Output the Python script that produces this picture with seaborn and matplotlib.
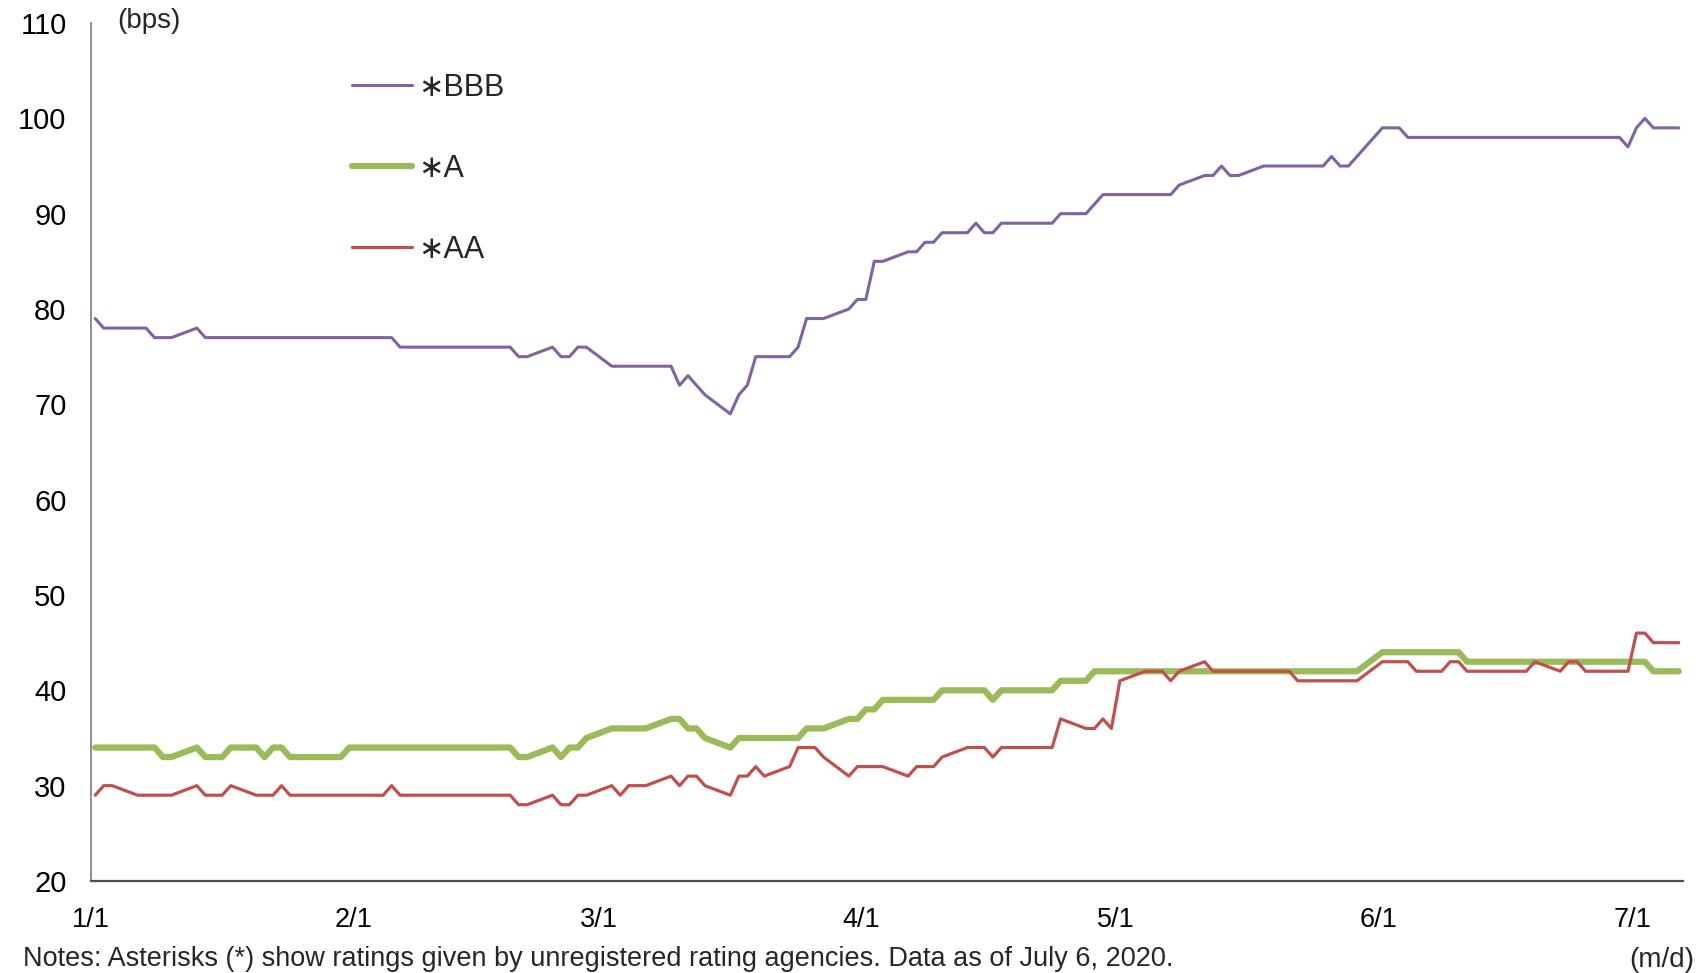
import matplotlib
matplotlib.use("Agg")
import matplotlib.pyplot as plt
import pandas as pd
import seaborn as sns

# Spread vertices (date, bps) for each rating series, 2020
bbb_dates = ["01-01", "01-02", "01-07", "01-08", "01-10", "01-13", "01-14", "02-05",
             "02-06", "02-19", "02-20", "02-21", "02-24", "02-25", "02-26", "02-27",
             "02-28", "03-02", "03-09", "03-10", "03-11", "03-13", "03-16", "03-17",
             "03-18", "03-19", "03-23", "03-24", "03-25", "03-27", "03-30", "03-31",
             "04-01", "04-02", "04-03", "04-06", "04-07", "04-08", "04-09", "04-10",
             "04-13", "04-14", "04-15", "04-16", "04-17", "04-23", "04-24", "04-27",
             "04-29", "05-07", "05-08", "05-11", "05-12", "05-13", "05-14", "05-15",
             "05-18", "05-25", "05-26", "05-27", "05-28", "06-01", "06-03", "06-04",
             "06-29", "06-30", "07-01", "07-02", "07-03", "07-06"]
bbb_values = [79, 78, 78, 77, 77, 78, 77, 77,
              76, 76, 75, 75, 76, 75, 75, 76,
              76, 74, 74, 72, 73, 71, 69, 71,
              72, 75, 75, 76, 79, 79, 80, 81,
              81, 85, 85, 86, 86, 87, 87, 88,
              88, 89, 88, 88, 89, 89, 90, 90,
              92, 92, 93, 94, 94, 95, 94, 94,
              95, 95, 96, 95, 95, 99, 99, 98,
              98, 97, 99, 100, 99, 99]

a_dates = ["01-01", "01-08", "01-09", "01-10", "01-13", "01-14", "01-16", "01-17",
           "01-20", "01-21", "01-22", "01-23", "01-24", "01-30", "01-31", "02-19",
           "02-20", "02-21", "02-24", "02-25", "02-26", "02-27", "02-28", "03-02",
           "03-06", "03-09", "03-10", "03-11", "03-12", "03-13", "03-16", "03-17",
           "03-24", "03-25", "03-27", "03-30", "03-31", "04-01", "04-02", "04-03",
           "04-09", "04-10", "04-15", "04-16", "04-17", "04-23", "04-24", "04-27",
           "04-28", "05-29", "06-01", "06-10", "06-11", "07-02", "07-03", "07-06"]
a_values = [34, 34, 33, 33, 34, 33, 33, 34,
            34, 33, 34, 34, 33, 33, 34, 34,
            33, 33, 34, 33, 34, 34, 35, 36,
            36, 37, 37, 36, 36, 35, 34, 35,
            35, 36, 36, 37, 37, 38, 38, 39,
            39, 40, 40, 39, 40, 40, 41, 41,
            42, 42, 44, 44, 43, 43, 42, 42]

aa_dates = ["01-01", "01-02", "01-03", "01-06", "01-10", "01-13", "01-14", "01-16",
            "01-17", "01-20", "01-22", "01-23", "01-24", "02-04", "02-05", "02-06",
            "02-19", "02-20", "02-21", "02-24", "02-25", "02-26", "02-27", "02-28",
            "03-02", "03-03", "03-04", "03-06", "03-09", "03-10", "03-11", "03-12",
            "03-13", "03-16", "03-17", "03-18", "03-19", "03-20", "03-23", "03-24",
            "03-26", "03-27", "03-30", "03-31", "04-03", "04-06", "04-07", "04-09",
            "04-10", "04-13", "04-15", "04-16", "04-17", "04-23", "04-24", "04-27",
            "04-28", "04-29", "04-30", "05-01", "05-04", "05-06", "05-07", "05-08",
            "05-11", "05-12", "05-21", "05-22", "05-29", "06-01", "06-04", "06-05",
            "06-08", "06-09", "06-10", "06-11", "06-18", "06-19", "06-22", "06-23",
            "06-24", "06-25", "06-30", "07-01", "07-02", "07-03", "07-06"]
aa_values = [29, 30, 30, 29, 29, 30, 29, 29,
             30, 29, 29, 30, 29, 29, 30, 29,
             29, 28, 28, 29, 28, 28, 29, 29,
             30, 29, 30, 30, 31, 30, 31, 31,
             30, 29, 31, 31, 32, 31, 32, 34,
             34, 33, 31, 32, 32, 31, 32, 32,
             33, 34, 34, 33, 34, 34, 37, 36,
             36, 37, 36, 41, 42, 42, 41, 42,
             43, 42, 42, 41, 41, 43, 43, 42,
             42, 43, 43, 42, 42, 43, 42, 43,
             43, 42, 42, 46, 46, 45, 45]

series_labels = ["\u2217BBB", "\u2217A", "\u2217AA"]
series_colors = ["#8064A2", "#9BBB59", "#C0504D"]
series_widths = [2.2, 4.5, 2.3]

month_ticks = ["2020-01-01", "2020-02-01", "2020-03-01", "2020-04-01",
               "2020-05-01", "2020-06-01", "2020-07-01"]
month_labels = ["1/1", "2/1", "3/1", "4/1", "5/1", "6/1", "7/1"]
y_ticks = [20, 30, 40, 50, 60, 70, 80, 90, 100, 110]

sns.set_theme(style="white")
plt.rcParams["font.family"] = ["Liberation Sans", "DejaVu Sans"]

W, H = 1701, 973
TEXT_SIZE = 19.5
fig = plt.figure(figsize=(W / 100, H / 100), dpi=100)
ax = fig.add_axes([91 / W, 1 - 881 / H, 1592 / W, 858 / H])


def frame(dates, values):
    # each daily point sits in the middle of its day on the date axis
    d = pd.to_datetime(["2020-" + s for s in dates]) + pd.Timedelta(hours=12)
    return pd.DataFrame({"date": d, "bps": values})


all_series = [(bbb_dates, bbb_values), (a_dates, a_values), (aa_dates, aa_values)]
for (dates, values), lab, col, lw in zip(all_series, series_labels, series_colors, series_widths):
    sns.lineplot(data=frame(dates, values), x="date", y="bps", ax=ax,
                 color=col, linewidth=lw, label=lab, solid_capstyle="round")

ax.set_xlim(pd.Timestamp("2020-01-01"), pd.Timestamp("2020-07-07"))
ax.set_ylim(20, 110)
ax.set_xticks(pd.to_datetime(month_ticks))
ax.set_xticklabels(month_labels)
ax.set_yticks(y_ticks)
ax.set_xlabel("")
ax.set_ylabel("")

for side in ("top", "right"):
    ax.spines[side].set_visible(False)
ax.spines["left"].set_color("#868686")
ax.spines["left"].set_linewidth(1.3)
ax.spines["bottom"].set_color("#4d4d4d")
ax.spines["bottom"].set_linewidth(1.6)

ax.tick_params(axis="both", direction="inout", length=12.2, width=1.0,
               color="#404040", labelcolor="black")
ax.tick_params(axis="y", pad=11.5, labelsize=21)
ax.tick_params(axis="x", pad=12.5, labelsize=TEXT_SIZE)

ax.legend(loc="upper left", bbox_to_anchor=(352 / W, 1 - 72.5 / H),
          bbox_transform=fig.transFigure, frameon=False, borderpad=0,
          borderaxespad=0, handlelength=1.95, handletextpad=0.2,
          labelspacing=1.68, fontsize=22)

fig.text(117 / W, 1 - 21 / H, "(bps)", ha="left", va="center", fontsize=20)
fig.text(23 / W, 1 - 966 / H,
         "Notes: Asterisks (*) show ratings given by unregistered rating agencies. "
         "Data as of July 6, 2020.",
         ha="left", va="baseline", fontsize=TEXT_SIZE)
fig.text(1694 / W, 1 - 967 / H, "(m/d)", ha="right", va="baseline", fontsize=20)

fig.savefig("out.png", dpi=100, facecolor="white")
